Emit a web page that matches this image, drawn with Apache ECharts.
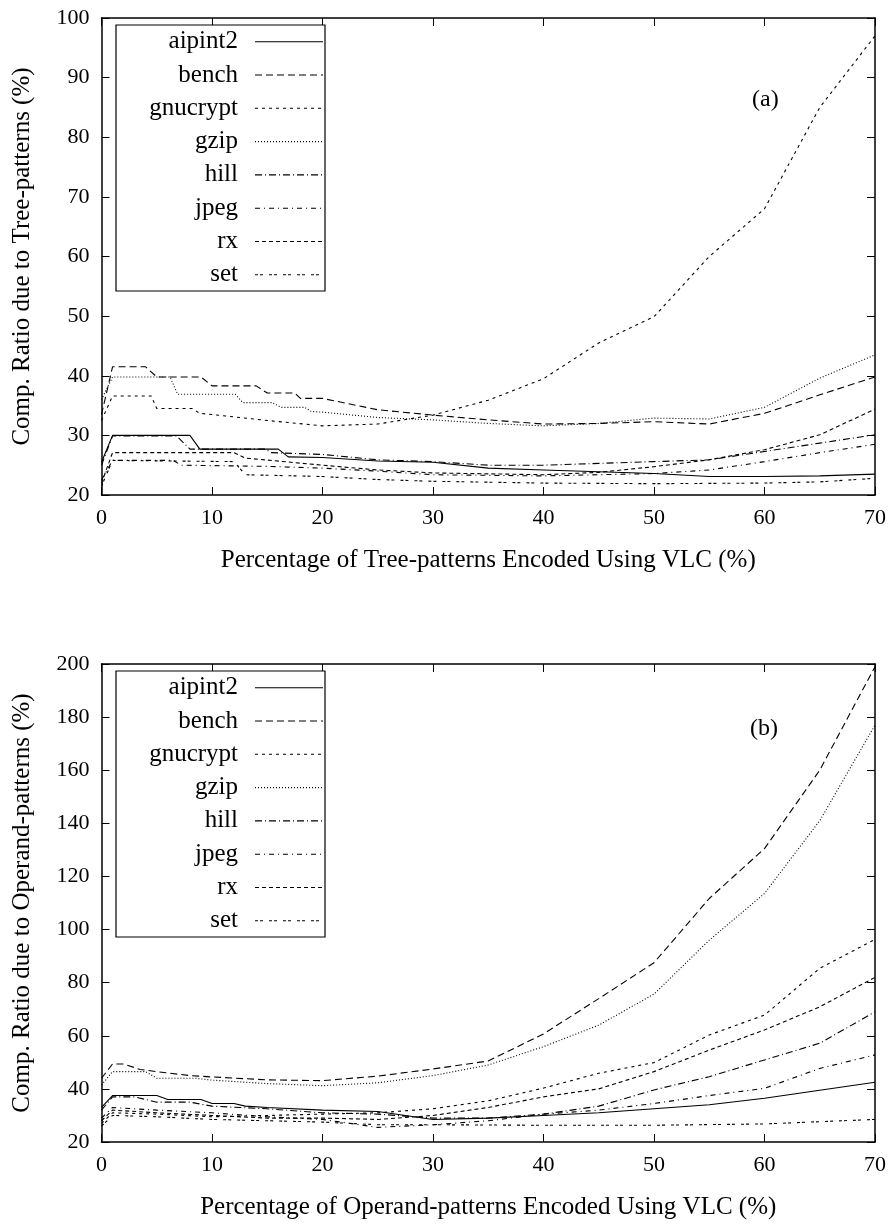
<!DOCTYPE html>
<html><head><meta charset="utf-8">
<script src="https://cdn.jsdelivr.net/npm/echarts@6/dist/echarts.min.js"></script>
<style>html,body{margin:0;padding:0;background:#fff}#c{width:891px;height:1226px}</style>
</head><body><div id="c"></div>
<script>
// ---- data: [x, y] pairs ----
const seriesNames = ['aipint2','bench','gnucrypt','gzip','hill','jpeg','rx','set'];

// (a) Tree-patterns
const aipint2A = [[0,25.5],[1,30],[8,30],[8.9,27.7],[16,27.7],[16.9,26.4],[20,26.3],[25,25.7],[30,25.5],[35,24.5],[40,24.2],[45,23.9],[50,23.6],[55,23.1],[60,23.1],[65,23.2],[70,23.5]];
const benchA = [[0,33.5],[1,41.5],[4,41.5],[5,39.8],[9,39.8],[10,38.3],[14,38.3],[15,37.1],[17.5,37.1],[18,36.2],[20,36.2],[25,34.3],[30,33.4],[35,32.6],[40,31.9],[45,32.0],[50,32.3],[55,31.9],[60,33.7],[65,36.8],[70,39.8]];
const gnucryptA = [[0,32.5],[1,36.6],[4.5,36.6],[5,34.5],[8.2,34.5],[8.9,33.7],[10,33.5],[15,32.5],[20,31.6],[25,31.9],[30,33.4],[35,35.9],[40,39.5],[45,45.5],[50,49.9],[55,60],[60,68],[65,85],[70,97]];
const gzipA = [[0,36],[1,39.8],[6.2,39.8],[6.9,36.9],[12.1,36.9],[12.8,35.5],[15.4,35.5],[16.3,34.7],[18.4,34.7],[19,34.0],[20,33.9],[25,33.0],[30,32.6],[35,32.0],[40,31.6],[45,32.0],[50,32.9],[55,32.75],[60,34.7],[65,39.6],[70,43.5]];
const hillA = [[0,25],[1,29.9],[6.8,29.9],[8,27.7],[14.8,27.7],[15.4,27.1],[20,26.8],[25,25.9],[30,25.6],[35,25.0],[40,25.0],[45,25.3],[50,25.6],[55,25.9],[60,27.3],[65,28.7],[70,30.1]];
const jpegA = [[0,22.5],[1,25.8],[6.5,25.8],[7.2,25.0],[15,24.8],[20,24.5],[25,24.0],[30,23.4],[40,23.2],[50,23.6],[55,24.2],[60,25.6],[65,27.1],[70,28.5]];
const rxA = [[0,22],[1,27.1],[12,27.1],[13,26.2],[20,25.0],[25,24.2],[30,23.7],[40,23.4],[45,23.8],[50,24.75],[55,25.9],[60,27.6],[65,30.1],[70,34.4]];
const setA = [[0,21.5],[1,25.8],[12,25.6],[13,23.4],[20,23.1],[25,22.6],[30,22.3],[40,22.0],[50,21.9],[60,22.0],[65,22.2],[70,22.8]];

// (b) Operand-patterns
const aipint2B = [[0,33],[1,37.5],[5,37.5],[6,36],[9,36],[10,34.5],[12,34.5],[13,33.5],[15,33],[20,32],[25,31.5],[30,28.5],[35,29],[40,30],[45,31],[50,32.5],[55,34],[60,36.5],[65,39.5],[70,42.5]];
const benchB = [[0,44],[1,49.4],[2,49.4],[3.5,47.3],[5,46.5],[8,45],[10,44.5],[15,43.4],[20,43.1],[25,44.8],[30,47.5],[35,50.5],[40,60.7],[45,74],[50,87.5],[55,111.7],[60,130.5],[65,160],[70,199]];
const gnucryptB = [[0,27],[1,31],[5,30.5],[10,29.5],[15,30],[20,30.5],[25,31],[30,32.5],[35,35.5],[40,40.3],[45,45.9],[50,49.9],[55,60.3],[60,67.8],[65,85.4],[70,96.3]];
const gzipB = [[0,41.5],[1,46.5],[4,46.5],[5,44],[8.5,44],[10,43.3],[15,42],[20,41.2],[25,42.3],[30,45],[35,49],[40,55.9],[45,64],[50,75.7],[55,96],[60,113.6],[65,141],[70,177]];
const hillB = [[0,32],[1,37],[3,37],[5,35],[8,35],[10,33.5],[15,32.5],[20,31],[25,30.5],[30,29],[35,29],[40,30.5],[45,33.5],[50,39.6],[55,44.6],[60,50.9],[65,57.2],[70,69]];
const jpegB = [[0,29],[1,33],[5,32],[10,31],[15,29.5],[20,28.5],[25,25.5],[30,26.5],[35,28],[40,30.5],[45,32],[50,34.5],[55,37.5],[60,40.2],[65,47.7],[70,52.8]];
const rxB = [[0,28],[1,32],[5,31],[10,30],[15,29],[20,29],[25,28.5],[30,30],[35,33],[40,37],[45,40],[50,46.5],[55,54.6],[60,62.2],[65,70.9],[70,82]];
const setB = [[0,26],[1,30],[5,29.5],[10,28.5],[15,28],[20,27.5],[25,26.5],[30,26.5],[40,26.3],[50,26.3],[60,26.8],[70,28.5]];

const dataA = [aipint2A, benchA, gnucryptA, gzipA, hillA, jpegA, rxA, setA];
const dataB = [aipint2B, benchB, gnucryptB, gzipB, hillB, jpegB, rxB, setB];

// ---- styles ----
const FONT = 'Liberation Serif';
const FS = 22;      // tick labels
const FT = 25;      // axis titles, legend
const dashes = [null, [7,4], [3,4], [1,2], [7,3,1,3], [5,4,1,4], [4,3], [3,2,3,6]];

const chart = echarts.init(document.getElementById('c'), null, {renderer:'canvas'});

function xAx(grid, pos, labels, name) {
  return {
    type:'value', gridIndex:grid, position:pos, min:0, max:70, interval:10,
    axisLine:{show:true, onZero:false, lineStyle:{color:'#000', width:1.5}},
    axisTick:{show:true, inside:true, length:8, lineStyle:{color:'#000', width:1}},
    axisLabel:{show:labels, color:'#000', fontFamily:FONT, fontSize:FS, margin:12},
    splitLine:{show:false},
    name: name || '', nameLocation:'middle', nameGap:53,
    nameTextStyle:{color:'#000', fontFamily:FONT, fontSize:FT}
  };
}
function yAx(grid, pos, labels, min, max, step, name) {
  return {
    type:'value', gridIndex:grid, position:pos, min:min, max:max, interval:step,
    axisLine:{show:true, onZero:false, lineStyle:{color:'#000', width:1.5}},
    axisTick:{show:true, inside:true, length:8, lineStyle:{color:'#000', width:1}},
    axisLabel:{show:labels, color:'#000', fontFamily:FONT, fontSize:FS, margin:12},
    splitLine:{show:false},
    name: name || '', nameLocation:'middle', nameGap:67,
    nameTextStyle:{color:'#000', fontFamily:FONT, fontSize:FT}
  };
}

const series = [];
[dataA, dataB].forEach((set, g) => {
  set.forEach((d, i) => {
    series.push({
      type:'line', name:seriesNames[i], data:d,
      xAxisIndex: g*2, yAxisIndex: g*2,
      symbol:'none', showSymbol:false, smooth:false, silent:true,
      lineStyle:{color:'#000', width:1.1, type:dashes[i] || 'solid'}
    });
  });
});

// legend boxes drawn as graphics (text right-aligned, sample line to the right)
function legendGraphics(top) {
  const els = [{type:'rect', shape:{x:116, y:top, width:209, height:266},
    style:{fill:'#fff', stroke:'#000', lineWidth:1.2}, z:50}];
  seriesNames.forEach((n, i) => {
    const cy = top + 16.7 + i*33.3;
    els.push({type:'text', x:238, y:cy, z:51,
      style:{text:n, fill:'#000', font:FT+'px "'+FONT+'"', textAlign:'right', textVerticalAlign:'middle'}});
    els.push({type:'line', z:51, shape:{x1:255, y1:cy, x2:323, y2:cy},
      style:{stroke:'#000', lineWidth:1.1, lineDash:dashes[i]}});
  });
  return els;
}

const option = {
  animation:false,
  backgroundColor:'#fff',
  grid:[
    {left:101.5, right:16, top:18, height:477, containLabel:false},
    {left:101.5, right:16, top:664, height:478, containLabel:false}
  ],
  xAxis:[
    xAx(0,'bottom',true,'Percentage of Tree-patterns Encoded Using VLC (%)'),
    xAx(0,'top',false),
    xAx(1,'bottom',true,'Percentage of Operand-patterns Encoded Using VLC (%)'),
    xAx(1,'top',false)
  ],
  yAxis:[
    yAx(0,'left',true,20,100,10,'Comp. Ratio due to Tree-patterns (%)'),
    yAx(0,'right',false,20,100,10),
    yAx(1,'left',true,20,200,20,'Comp. Ratio due to Operand-patterns (%)'),
    yAx(1,'right',false,20,200,20)
  ],
  graphic:[
    ...legendGraphics(25),
    ...legendGraphics(671),
    {type:'text', x:752, y:88, style:{text:'(a)', font:'24px "Liberation Serif"', fill:'#000'}},
    {type:'text', x:750, y:717, style:{text:'(b)', font:'24px "Liberation Serif"', fill:'#000'}}
  ],
  series: series
};
chart.setOption(option);
</script></body></html>
